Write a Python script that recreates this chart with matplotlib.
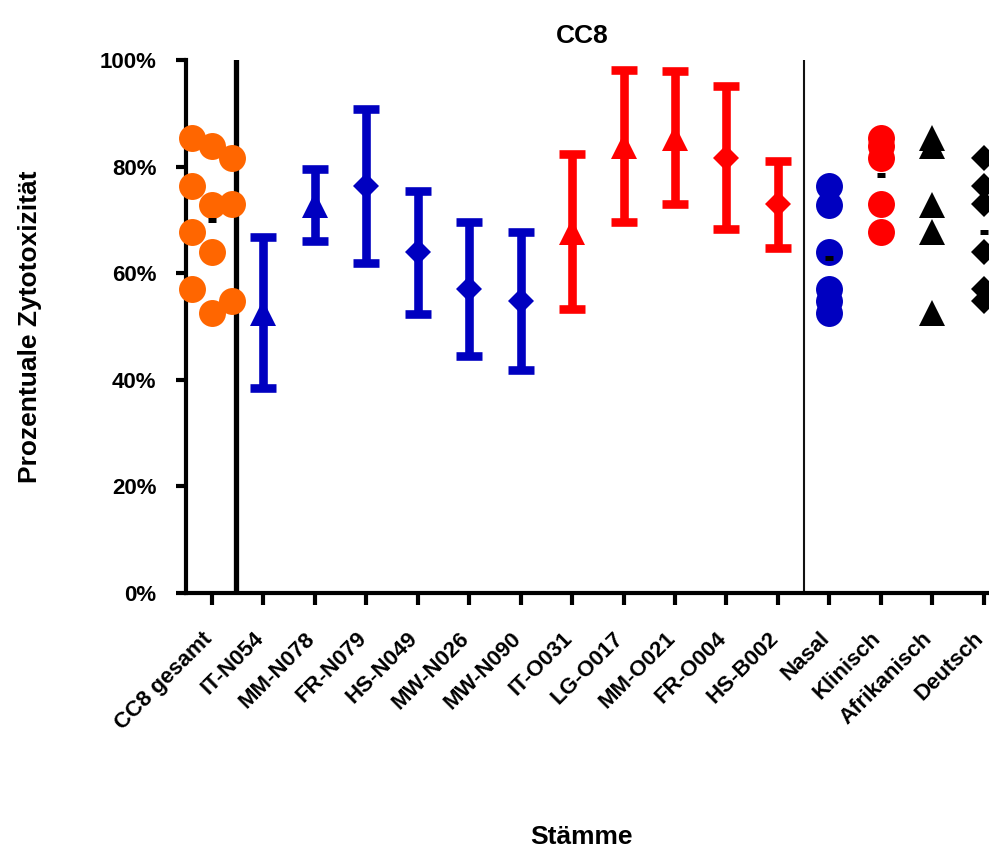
"""CC8 cytotoxicity per strain and per group"""
import numpy as np
import matplotlib
matplotlib.use("Agg")
import matplotlib.pyplot as plt
from matplotlib.ticker import PercentFormatter
from matplotlib.transforms import ScaledTranslation

plt.rcParams['font.family'] = ['Liberation Sans', 'DejaVu Sans']
plt.rcParams['font.weight'] = 'bold'

# --- data ---------------------------------------------------------------
categories = ["CC8 gesamt", "IT-N054", "MM-N078", "FR-N079", "HS-N049",
              "MW-N026", "MW-N090", "IT-O031", "LG-O017", "MM-O021",
              "FR-O004", "HS-B002", "Nasal", "Klinisch", "Afrikanisch",
              "Deutsch"]
strains = categories[1:12]
strain_mean = [52.6, 72.8, 76.4, 63.9, 57.0, 54.8, 67.8, 83.9, 85.4, 81.7, 72.9]
strain_sd = [14.2, 6.8, 14.4, 11.5, 12.6, 13.0, 14.6, 14.3, 12.5, 13.4, 8.2]
strain_source = ["Nasal", "Nasal", "Nasal", "Nasal", "Nasal", "Nasal",
                 "Klinisch", "Klinisch", "Klinisch", "Klinisch", "Klinisch"]
strain_origin = ["Afrikanisch", "Afrikanisch", "Deutsch", "Deutsch", "Deutsch",
                 "Deutsch", "Afrikanisch", "Afrikanisch", "Afrikanisch",
                 "Deutsch", "Deutsch"]

# --- styles -------------------------------------------------------------
ORANGE = "#FF6600"
source_color = {"Nasal": "#0000C0", "Klinisch": "#FF0000"}
origin_marker = {"Afrikanisch": "^", "Deutsch": "D"}
group_style = {"Nasal": ("o", "#0000C0"), "Klinisch": ("o", "#FF0000"),
               "Afrikanisch": ("^", "black"), "Deutsch": ("D", "black")}
MS = 19.4                 # marker size in pt (27 px)
ms_for = {"o": MS, "^": MS, "D": MS / 1.414}


def swarm_offsets(values, min_gap=5.0, step=0.39):
    """Greedy column spreading like a GraphPad scatter."""
    placed = []
    slots = []
    for v in values:
        for s in (0, -1, 1, -2, 2):
            if all(abs(v - pv) >= min_gap for pv, ps in placed if ps == s):
                break
        placed.append((v, s))
        slots.append(s)
    return np.array(slots) * step


fig = plt.figure(figsize=(9.89, 8.5), dpi=100)
ax = fig.add_axes([186 / 989, 1 - 593 / 850, 803 / 989, 533 / 850])
pos = {c: i for i, c in enumerate(categories)}

# dividers
ax.axvline(0.48, color="black", lw=3.8, zorder=1)
ax.axvline(11.5, color="#111111", lw=1.5, zorder=1)

# pooled column
gesamt = np.array(strain_mean)
xs = pos["CC8 gesamt"] + swarm_offsets(gesamt)
ax.plot(xs, gesamt, "o", color=ORANGE, ms=MS, mew=0, zorder=3, clip_on=False)
ax.plot(pos["CC8 gesamt"], gesamt.mean(), "_", color="black", ms=5.8,
        mew=3.6, zorder=5)

# individual strains, mean +/- SD
for name, m, sd, src, org in zip(strains, strain_mean, strain_sd,
                                 strain_source, strain_origin):
    mk = origin_marker[org]
    col = source_color[src]
    ax.errorbar(pos[name], m, yerr=sd, fmt="none", ecolor=col,
                elinewidth=6.2, capsize=9.7, capthick=6.2, zorder=3)
    ax.plot(pos[name], m, mk, color=col, ms=ms_for[mk], mew=0, zorder=4)

# group columns
groups = {
    "Nasal": [m for m, s in zip(strain_mean, strain_source) if s == "Nasal"],
    "Klinisch": [m for m, s in zip(strain_mean, strain_source) if s == "Klinisch"],
    "Afrikanisch": [m for m, o in zip(strain_mean, strain_origin) if o == "Afrikanisch"],
    "Deutsch": [m for m, o in zip(strain_mean, strain_origin) if o == "Deutsch"],
}
for g, vals in groups.items():
    mk, col = group_style[g]
    ax.plot([pos[g]] * len(vals), vals, mk, color=col, ms=ms_for[mk], mew=0,
            zorder=3)
    ax.plot(pos[g], np.mean(vals), "_", color="black", ms=5.8, mew=3.6,
            zorder=5)

# axes
ax.set_xlim(-0.5, 15.1)
ax.set_ylim(0, 100)
ax.set_yticks(np.arange(0, 101, 20))
ax.yaxis.set_major_formatter(PercentFormatter(decimals=0))
ax.set_xticks(range(len(categories)))
ax.set_xticklabels(categories, rotation=45, ha="right", va="center",
                   rotation_mode="anchor")
for side in ("top", "right"):
    ax.spines[side].set_visible(False)
for side in ("left", "bottom"):
    ax.spines[side].set_linewidth(3.0)
ax.tick_params(axis="y", length=7.2, width=3.0, labelsize=16, pad=14)
ax.tick_params(axis="x", length=8.6, width=3.0, labelsize=16, pad=22)

# nudge the slanted labels a little to the left (after tick_params)
shift = ScaledTranslation(-0.03, 0, fig.dpi_scale_trans)
for lab in ax.get_xticklabels():
    lab.set_transform(lab.get_transform() + shift)

ax.set_title("CC8", fontsize=19, fontweight="bold", x=0.493, pad=12)
ax.set_ylabel("Prozentuale Zytotoxizität", fontsize=19, fontweight="bold")
ax.yaxis.set_label_coords(-0.179, 0.5)
ax.set_xlabel("Stämme", fontsize=19, fontweight="bold")
ax.xaxis.set_label_coords(0.493, -0.435)

fig.savefig("out.png", dpi=100)
